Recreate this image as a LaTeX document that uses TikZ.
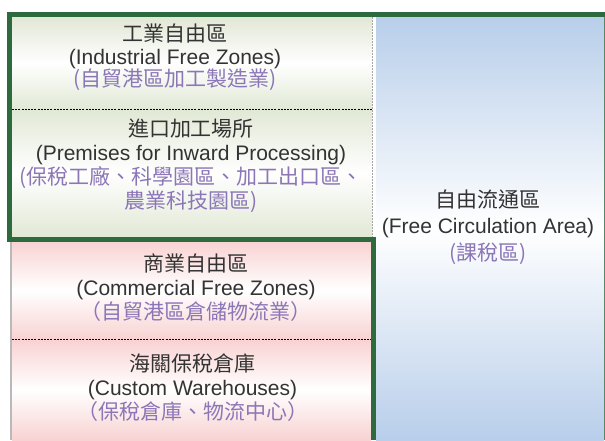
\documentclass[tikz,border=0pt]{standalone}
\usepackage{fontspec}
\setmainfont{Liberation Sans}
\newfontfamily\cjk{Noto Sans CJK TC}
\definecolor{gline}{HTML}{2D6A3E}
\definecolor{gfill}{HTML}{E1E8D5}
\definecolor{pfill}{HTML}{F9D2D2}
\definecolor{bfill}{HTML}{B8CEEA}
\definecolor{purp}{HTML}{8B76B7}
\definecolor{txtgray}{HTML}{333333}
\begin{document}
\begin{tikzpicture}[x=1pt,y=-1pt,
  gshade/.style={top color=gfill,bottom color=gfill,middle color=white},
  pshade/.style={top color=pfill,bottom color=pfill,middle color=white},
  bshade/.style={top color=bfill,bottom color=bfill,middle color=white},
  sepline/.style={black,line width=0.6pt,dash pattern=on 2pt off 1.2pt},
  border/.style={gline,line width=5pt,line join=miter},
  lbl/.style={align=center,inner sep=0pt,text=txtgray},
  f24/.style={font=\fontsize{21}{24}\selectfont},
  f22/.style={font=\fontsize{21}{22.5}\selectfont},
  f26/.style={font=\fontsize{21}{26.5}\selectfont}]
\useasboundingbox (0,0) rectangle (605,440);
% fills
\path[bshade] (376,17) rectangle (604,440);
\path[gshade] (12,17) rectangle (372,109);
\path[gshade] (12,109) rectangle (372,237);
\path[pshade] (12,241) rectangle (371,339.5);
\path[pshade] (12,339.5) rectangle (371,440);
% separators
\draw[sepline] (12,109) -- (372,109);
\draw[sepline] (12,339.5) -- (371,339.5);
\draw[gray!70,line width=0.6pt,dash pattern=on 2pt off 1pt] (372.3,17) -- (372.3,237);
\draw[gray!55,line width=1.8pt] (11,241) -- (11,440);
\draw[gline!80,line width=0.8pt] (604.2,17) -- (604.2,440);
% green border
\draw[border] (604.6,14.5) -- (9.5,14.5) -- (9.5,239.2) -- (373.6,239.2) -- (373.6,440);
% texts
\node[lbl,f22] (ifz) at (175,57.5) {{\cjk 工業自由區}\\(Industrial Free Zones)\\{\cjk\color{purp}(自貿港區加工製造業)}};
\node[lbl,f24] (pip) at (191,166) {{\cjk 進口加工場所}\\(Premises for Inward Processing)\\{\cjk\color{purp}(保稅工廠、科學園區、加工出口區、}\\{\cjk\color{purp}農業科技園區)}};
\node[lbl,f24] (cfz) at (196,287.5) {{\cjk 商業自由區}\\(Commercial Free Zones)\\{\cjk\color{purp}（自貿港區倉儲物流業）}};
\node[lbl,f24] (cw) at (192.5,387.5) {{\cjk 海關保稅倉庫}\\(Custom Warehouses)\\{\cjk\color{purp}（保稅倉庫、物流中心）}};
\node[lbl,f26] (fca) at (488,227) {{\cjk 自由流通區}\\(Free Circulation Area)\\{\cjk\color{purp}(課稅區)}};
\end{tikzpicture}
\end{document}
